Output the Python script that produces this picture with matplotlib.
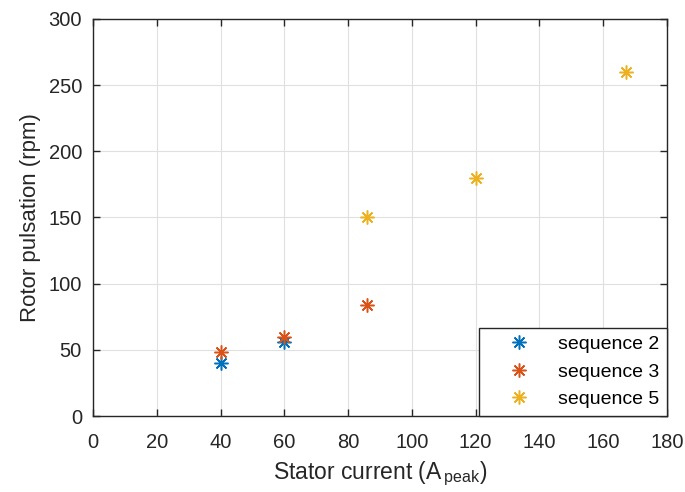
import matplotlib
matplotlib.use('Agg')
import matplotlib.pyplot as plt

plt.rcParams['font.family'] = ['Liberation Sans', 'DejaVu Sans']
plt.rcParams['mathtext.fontset'] = 'custom'
plt.rcParams['mathtext.rm'] = 'Liberation Sans'

# data
seq2_x = [40, 60]
seq2_y = [40, 56]
seq3_x = [40, 60, 86]
seq3_y = [48, 60, 84]
seq5_x = [86, 120, 167]
seq5_y = [150, 180, 260]

colors = ['#0072BD', '#D95319', '#EDB120']
star = (8, 2, 0)

fig = plt.figure(figsize=(6.85, 4.92), dpi=100)
ax = fig.add_axes([93/685, 1-416/492, (667-93)/685, (416-19)/492])

ax.plot(seq2_x, seq2_y, linestyle='none', marker=star, ms=10, mew=1.1, color=colors[0], label='sequence 2')
ax.plot(seq3_x, seq3_y, linestyle='none', marker=star, ms=10, mew=1.1, color=colors[1], label='sequence 3')
ax.plot(seq5_x, seq5_y, linestyle='none', marker=star, ms=10, mew=1.1, color=colors[2], label='sequence 5')

ax.set_xlim(0, 180)
ax.set_ylim(0, 300)
ax.set_xticks(range(0, 181, 20))
ax.set_yticks(range(0, 301, 50))
ax.grid(True, color='#e0e0e0', linewidth=0.8)
ax.set_axisbelow(True)
ax.tick_params(direction='in', top=True, right=True, labelsize=14.5, colors='#262626',
               length=5, width=1.0)
ax.tick_params(axis='y', pad=8)
ax.tick_params(axis='x', pad=12)
for s in ax.spines.values():
    s.set_color('#262626')
    s.set_linewidth(1.0)

ax.set_xlabel('Stator current (A$_{\\mathrm{\\,peak}}$)', fontsize=16.5, color='#262626', labelpad=6)
ax.set_ylabel('Rotor pulsation (rpm)', fontsize=16, color='#262626', labelpad=5)

leg = ax.legend(loc='lower right', fontsize=14, fancybox=False, framealpha=1,
                edgecolor='#262626', borderaxespad=0, handletextpad=0.35, handlelength=3.3,
                borderpad=0.4, labelspacing=0.51)
leg.get_frame().set_linewidth(1.0)

plt.savefig('out.png', dpi=100)
